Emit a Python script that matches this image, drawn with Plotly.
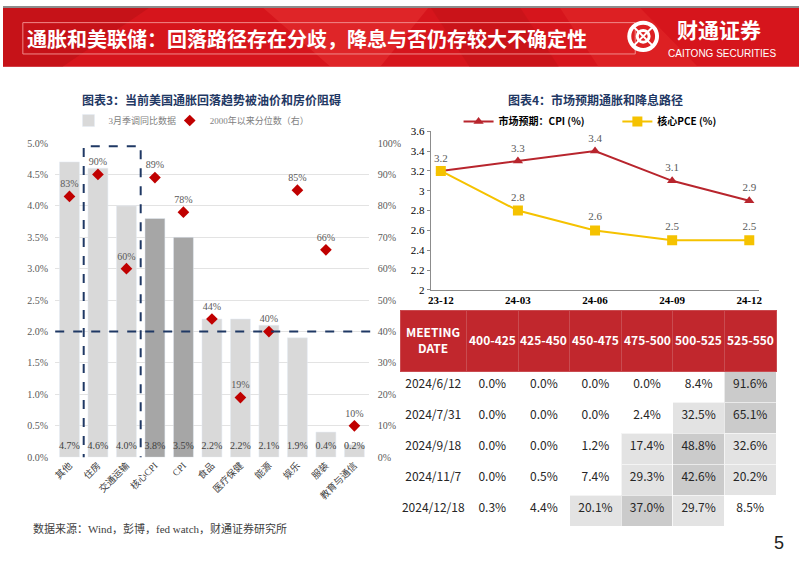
import plotly.graph_objects as go

W, H = 802, 567
def px(x): return x / W
def py(y): return 1 - y / H

# ---------------- data ----------------
categories = ["其他", "住房", "交通运输", "核心CPI", "CPI", "食品", "医疗保健", "能源", "娱乐", "服装", "教育与通信"]
yoy_values = [4.7, 4.6, 4.0, 3.8, 3.5, 2.2, 2.2, 2.1, 1.9, 0.4, 0.2]
percentile_values = [0.83, 0.90, 0.60, 0.89, 0.78, 0.44, 0.19, 0.40, 0.85, 0.66, 0.10]

periods = ["23-12", "24-03", "24-06", "24-09", "24-12"]
cpi_expect = [3.2, 3.3, 3.4, 3.1, 2.9]
core_pce = [3.2, 2.8, 2.6, 2.5, 2.5]

meeting_dates = ["2024/6/12", "2024/7/31", "2024/9/18", "2024/11/7", "2024/12/18"]
rate_buckets = ["400-425", "425-450", "450-475", "475-500", "500-525", "525-550"]
p_400_425 = [0.0, 0.0, 0.0, 0.0, 0.3]
p_425_450 = [0.0, 0.0, 0.0, 0.5, 4.4]
p_450_475 = [0.0, 0.0, 1.2, 7.4, 20.1]
p_475_500 = [0.0, 2.4, 17.4, 29.3, 37.0]
p_500_525 = [8.4, 32.5, 48.8, 42.6, 29.7]
p_525_550 = [91.6, 65.1, 32.6, 20.2, 8.5]

SERIF = "Liberation Serif, Noto Sans CJK SC, serif"
SANS = "Noto Sans CJK SC, Open Sans, sans-serif"

fig = go.Figure()

# ---------------- left chart ----------------
bar_colors = ["#a6a6a6" if c in ("核心CPI", "CPI") else "#d9d9d9" for c in categories]
fig.add_trace(go.Bar(
    x=categories, y=yoy_values, marker_color=bar_colors, width=0.7,
    name="3月季调同比数据", xaxis="x", yaxis="y", legend="legend",
    hoverinfo="skip"))
fig.add_trace(go.Scatter(
    x=categories, y=[0.17] * len(categories),
    text=[f"{v:.1f}%" for v in yoy_values], mode="text",
    textfont=dict(family=SERIF, size=10, color="#404040"),
    xaxis="x", yaxis="y", showlegend=False, hoverinfo="skip"))
fig.add_trace(go.Scatter(
    x=categories, y=percentile_values, mode="markers+text",
    marker=dict(symbol="diamond", size=9, color="#c00000"),
    text=[f"{round(v*100)}%" for v in percentile_values], textposition="top center",
    textfont=dict(family=SERIF, size=10, color="#595959"),
    name="2000年以来分位数（右）", xaxis="x", yaxis="y2", legend="legend2",
    hoverinfo="skip"))

# ---------------- right chart ----------------
fig.add_trace(go.Scatter(
    x=periods, y=cpi_expect, mode="lines+markers+text",
    line=dict(color="#b8252d", width=2),
    marker=dict(symbol="triangle-up", size=9, color="#b8252d"),
    text=[f"{v:g}" for v in cpi_expect], textposition="top center",
    textfont=dict(family=SERIF, size=11, color="#595959"),
    name="<b>市场预期：CPI (%)</b>", xaxis="x3", yaxis="y3", legend="legend3",
    hoverinfo="skip"))
fig.add_trace(go.Scatter(
    x=periods, y=core_pce, mode="lines+markers+text",
    line=dict(color="#f5c200", width=2),
    marker=dict(symbol="square", size=10, color="#f5c200"),
    text=[""] + [f"{v:g}" for v in core_pce[1:]], textposition="top center",
    textfont=dict(family=SERIF, size=11, color="#595959"),
    name="<b>核心PCE (%)</b>", xaxis="x3", yaxis="y3", legend="legend4",
    hoverinfo="skip"))

# ---------------- table ----------------
TX0, TX1 = 400, 779
col_w = [67, 52, 52, 52, 52, 52, 52]
Wc, L, M = "white", "#e3e3e3", "#cbcbcb"
fill_cols = [
    [Wc] * 5,
    [Wc] * 5,
    [Wc] * 5,
    [Wc, Wc, Wc, Wc, L],
    [Wc, Wc, L, L, M],
    [Wc, L, M, M, L],
    [M, M, L, L, Wc],
]
prob_cols = [p_400_425, p_425_450, p_450_475, p_475_500, p_500_525, p_525_550]
fig.add_trace(go.Table(
    domain=dict(x=[px(TX0), px(TX1)], y=[0, py(311)]),
    columnwidth=col_w,
    header=dict(
        values=[""] * 7,
        fill_color="#c1272d", line=dict(color="#c94b50", width=1),
        font=dict(family=SANS, size=12, color="white"), align="center", height=61),
    cells=dict(
        values=[meeting_dates] + [[f"{v:.1f}%" for v in col] for col in prob_cols],
        fill_color=fill_cols, line=dict(color="rgba(255,255,255,0.6)", width=1),
        font=dict(family=SANS, size=12, color="#262626"), align="center", height=31),
))

# ---------------- shapes ----------------
shapes = []
shapes.append(dict(type="rect", xref="paper", yref="paper", x0=0, x1=1, y0=py(62), y1=1,
                   fillcolor="#d6151c", line_width=0, layer="below"))
def poly(pts, color, op):
    path = "M " + " L ".join(f"{px(a)},{py(b)}" for a, b in pts) + " Z"
    return dict(type="path", xref="paper", yref="paper", path=path, fillcolor=color,
                opacity=op, line_width=0, layer="below")
shapes.append(poly([(0, 0), (150, 0), (60, 62), (0, 62)], "#a80d12", 0.35))
shapes.append(poly([(260, 0), (430, 0), (380, 62), (330, 62)], "#f0453e", 0.35))
shapes.append(poly([(430, 0), (520, 0), (560, 62), (470, 62)], "#b00f15", 0.3))
shapes.append(poly([(560, 0), (640, 0), (700, 62), (600, 62)], "#ee3b35", 0.3))
shapes.append(dict(type="line", xref="paper", yref="paper", x0=0, x1=1, y0=py(1), y1=py(1),
                   line=dict(color="#8c8c8c", width=2)))
shapes.append(dict(type="rect", xref="paper", yref="paper", x0=px(20), x1=px(637),
                   y0=py(49), y1=py(17), line=dict(color="#f08a8a", width=1)))
cx, cy = 645, 31
shapes.append(dict(type="circle", xref="paper", yref="paper", x0=px(cx - 14), x1=px(cx + 14),
                   y0=py(cy + 14), y1=py(cy - 14), line=dict(color="white", width=4)))
shapes.append(dict(type="circle", xref="paper", yref="paper", x0=px(cx - 6), x1=px(cx + 6),
                   y0=py(cy + 6), y1=py(cy - 6), line=dict(color="white", width=3)))
shapes.append(dict(type="line", xref="paper", yref="paper", x0=px(cx - 9), x1=px(cx + 9),
                   y0=py(cy - 9), y1=py(cy + 9), line=dict(color="white", width=2)))
shapes.append(dict(type="line", xref="paper", yref="paper", x0=px(cx - 9), x1=px(cx + 9),
                   y0=py(cy + 9), y1=py(cy - 9), line=dict(color="white", width=2)))
shapes.append(dict(type="line", xref="x domain", yref="y", x0=0, x1=1.02, y0=2.0, y1=2.0,
                   line=dict(color="#1f3864", width=2, dash="dash")))
shapes.append(dict(type="rect", xref="x", yref="y", x0=0.5, x1=2.5, y0=-0.08, y1=4.95,
                   line=dict(color="#1f3864", width=2, dash="dash")))

# ---------------- annotations ----------------
ann = []
ann.append(dict(text="<b>通胀和美联储：回落路径存在分歧，降息与否仍存较大不确定性</b>",
                x=px(22), y=py(33), xref="paper", yref="paper", xanchor="left", yanchor="middle",
                showarrow=False, font=dict(family=SANS, size=20, color="white")))
ann.append(dict(text="<b>财通证券</b>", x=px(721), y=py(24), xref="paper", yref="paper",
                xanchor="center", yanchor="middle", showarrow=False,
                font=dict(family=SANS, size=21, color="white")))
ann.append(dict(text="CAITONG SECURITIES", x=px(724), y=py(49), xref="paper", yref="paper",
                xanchor="center", yanchor="middle", showarrow=False,
                font=dict(family="Liberation Sans, Arial", size=10, color="white")))
ann.append(dict(text="<b>图表3：当前美国通胀回落趋势被油价和房价阻碍</b>", x=px(210), y=py(96),
                xref="paper", yref="paper", xanchor="center", yanchor="middle", showarrow=False,
                font=dict(family=SANS, size=12, color="#1f3864")))
ann.append(dict(text="<b>图表4：市场预期通胀和降息路径</b>", x=px(597), y=py(96),
                xref="paper", yref="paper", xanchor="center", yanchor="middle", showarrow=False,
                font=dict(family=SANS, size=12, color="#1f3864")))
ann.append(dict(text="数据来源：Wind，彭博，fed watch，财通证券研究所", x=px(28), y=py(534),
                xref="paper", yref="paper", xanchor="left", yanchor="middle", showarrow=False,
                font=dict(family=SERIF, size=11, color="#404040")))
ann.append(dict(text="5", x=px(782), y=py(549), xref="paper", yref="paper",
                xanchor="center", yanchor="middle", showarrow=False,
                font=dict(family="Liberation Sans, Arial", size=18, color="#222222")))
# table header labels
header_labels = ["MEETING<br>DATE"] + rate_buckets
edges = [TX0]
for w in col_w:
    edges.append(edges[-1] + w)
for i, lab in enumerate(header_labels):
    ann.append(dict(text=f"<b>{lab}</b>", x=px((edges[i] + edges[i + 1]) / 2), y=py(341),
                    xref="paper", yref="paper", xanchor="center", yanchor="middle",
                    showarrow=False, font=dict(family=SANS, size=12, color="white")))

legend_common = dict(orientation="h", bgcolor="rgba(0,0,0,0)", borderwidth=0,
                     xref="paper", yref="paper", yanchor="middle", xanchor="left",
                     itemwidth=30, itemclick=False, itemdoubleclick=False)

fig.update_layout(
    width=W, height=H, margin=dict(l=0, r=0, t=0, b=0),
    paper_bgcolor="white", plot_bgcolor="white",
    shapes=shapes, annotations=ann,
    xaxis=dict(domain=[px(52.6), px(368.4)], type="category", range=[-0.5, 10.5],
               tickangle=-45, tickfont=dict(family=SERIF, size=9.5, color="#404040"),
               showline=False, showgrid=False, ticks="", fixedrange=True),
    yaxis=dict(domain=[py(461), py(140)], range=[0, 5], dtick=0.5, tickformat=".1f",
               ticksuffix="%", tickfont=dict(family=SERIF, size=10, color="#595959"),
               showgrid=True, gridcolor="#e3e3e3", gridwidth=1, zeroline=False,
               showline=False, ticks="", ticklabelstandoff=6),
    yaxis2=dict(overlaying="y", side="right", anchor="x", range=[0, 1], dtick=0.1,
                tickformat=".0%", tickfont=dict(family=SERIF, size=10, color="#595959"),
                showgrid=False, zeroline=False, showline=False, ticks="",
                ticklabelstandoff=8),
    xaxis3=dict(domain=[px(431), px(762)], anchor="y3", type="category",
                range=[-0.13, 4.13], showline=True, linecolor="#8c8c8c", linewidth=1,
                showgrid=False, ticks="",
                tickfont=dict(family=SERIF, size=11, color="#000000"),
                tickprefix="<b>", ticksuffix="</b>"),
    yaxis3=dict(domain=[py(290), py(128)], anchor="x3", range=[2, 3.6], dtick=0.2,
                showline=True, linecolor="#8c8c8c", linewidth=1, showgrid=False,
                zeroline=False, ticks="outside", ticklen=3, tickcolor="#8c8c8c",
                tickfont=dict(family=SERIF, size=11, color="#000000")),
    legend=dict(x=px(66), y=py(117), font=dict(family=SERIF, size=9, color="#7f7f7f"),
                **legend_common),
    legend2=dict(x=px(168), y=py(117), font=dict(family=SERIF, size=9, color="#7f7f7f"),
                 **legend_common),
    legend3=dict(x=px(459), y=py(118), font=dict(family=SANS, size=10, color="#000000"),
                 **legend_common),
    legend4=dict(x=px(619), y=py(118), font=dict(family=SANS, size=10, color="#000000"),
                 **legend_common),
    showlegend=True,
)

fig.write_html("out.html", config={"displayModeBar": False},
               post_script="document.body.style.margin='0';document.body.style.padding='0';")
